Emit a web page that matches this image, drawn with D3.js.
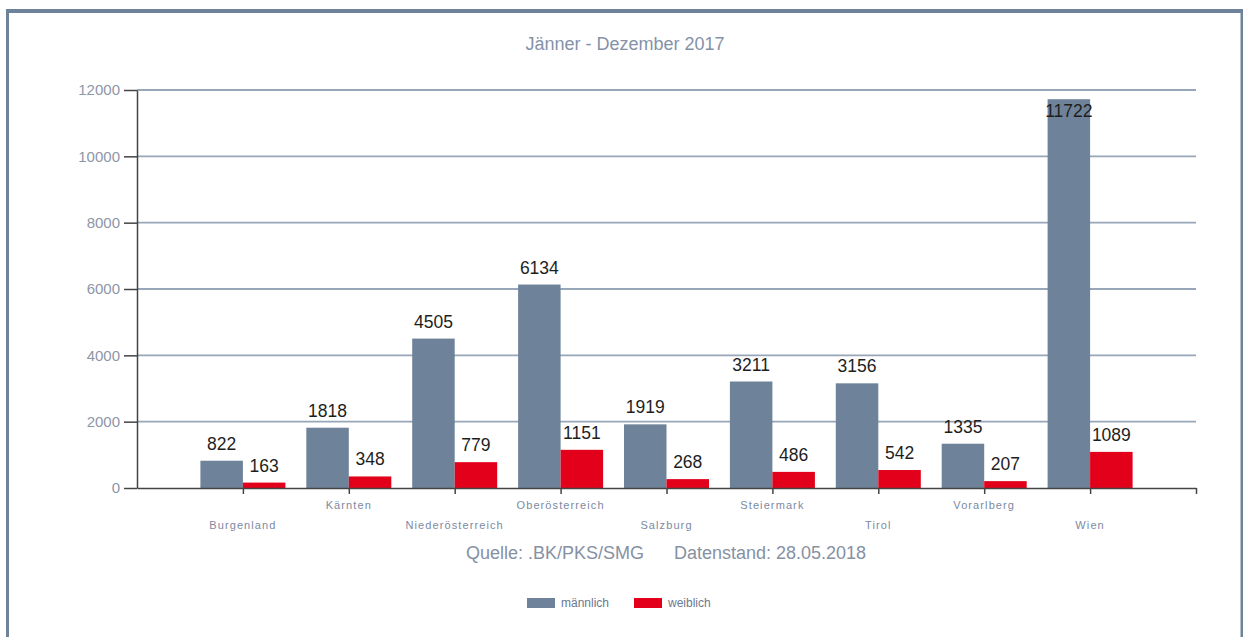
<!DOCTYPE html>
<html>
<head>
<meta charset="utf-8">
<script src="https://cdn.jsdelivr.net/npm/d3@7"></script>
<style>
  html, body { margin: 0; padding: 0; background: #fff; }
  svg { display: block; font-family: "Liberation Sans", Arial, sans-serif; }
</style>
</head>
<body>
<svg id="chart" width="1243" height="637"></svg>
<script>
// Bundesländer und Werte (Jänner - Dezember 2017)
const categories = ["Burgenland", "Kärnten", "Niederösterreich", "Oberösterreich", "Salzburg",
                    "Steiermark", "Tirol", "Vorarlberg", "Wien"];
const maleValues   = [822, 1818, 4505, 6134, 1919, 3211, 3156, 1335, 11722];
const femaleValues = [163, 348, 779, 1151, 268, 486, 542, 207, 1089];
const seriesNames  = ["männlich", "weiblich"];
const yTicks = [0, 2000, 4000, 6000, 8000, 10000, 12000];

const colors = { male: "#6e8399", female: "#e2001a", frame: "#6e8399" };

const svg = d3.select("#chart");
const W = 1243, H = 637;

// Rahmen
svg.append("rect").attr("x", 7.5).attr("y", 10.5).attr("width", 1234.5).attr("height", 640)
  .attr("fill", "none").attr("stroke", colors.frame).attr("stroke-width", 3);
svg.append("rect").attr("x", 6).attr("y", 9).attr("width", W).attr("height", 4).attr("fill", colors.frame);
svg.append("rect").attr("x", 1241).attr("y", 9).attr("width", 2).attr("height", H).attr("fill", colors.frame);

// Titel
svg.append("text").attr("x", 625).attr("y", 50).attr("text-anchor", "middle")
  .attr("font-size", 18).attr("fill", "#8492a8").text("Jänner - Dezember 2017");

const plot = { left: 137, right: 1196, top: 90, bottom: 488 };

const y = d3.scaleLinear().domain([0, 12000]).range([plot.bottom, plot.top]);
// Kategorien auf Positionen 1..9 einer Achse 0..10
const x = d3.scaleLinear().domain([0, categories.length + 1]).range([plot.left, plot.right]);
const barW = 42.5;

// Gitterlinien
svg.append("g").selectAll("line").data(yTicks.filter(t => t > 0)).join("line")
  .attr("x1", plot.left).attr("x2", plot.right)
  .attr("y1", d => y(d)).attr("y2", d => y(d))
  .attr("stroke", "#97a6b8").attr("stroke-width", 1.8);

// Balken
const groups = categories.map((c, i) => ({ c, i, m: maleValues[i], f: femaleValues[i] }));

svg.append("g").selectAll("rect").data(groups).join("rect")
  .attr("x", d => x(d.i + 1) - barW).attr("width", barW)
  .attr("y", d => y(d.m)).attr("height", d => plot.bottom - y(d.m))
  .attr("fill", colors.male);

svg.append("g").selectAll("rect").data(groups).join("rect")
  .attr("x", d => x(d.i + 1)).attr("width", barW)
  .attr("y", d => y(d.f)).attr("height", d => plot.bottom - y(d.f))
  .attr("fill", colors.female);

// Y-Achse
const yAxis = d3.axisLeft(y).tickValues(yTicks).tickFormat(d3.format("d")).tickSize(13).tickSizeOuter(0);
const gy = svg.append("g").attr("transform", `translate(${plot.left},0)`).call(yAxis);
gy.select(".domain").attr("stroke", "#444").attr("stroke-width", 1.5);
gy.selectAll(".tick line").attr("stroke", "#444").attr("stroke-width", 1.5);
gy.selectAll(".tick text").attr("font-size", 15).attr("fill", "#8d96a6")
  .attr("font-family", "Liberation Sans, Arial, sans-serif").attr("x", -17);

// X-Achse
const xTickVals = d3.range(1, categories.length + 2);
const xAxis = d3.axisBottom(x).tickValues(xTickVals).tickFormat("").tickSize(6).tickSizeOuter(0);
const gx = svg.append("g").attr("transform", `translate(0,${plot.bottom})`).call(xAxis);
gx.select(".domain").attr("stroke", "#444").attr("stroke-width", 1.5);
gx.selectAll(".tick line").attr("stroke", "#444").attr("stroke-width", 1.5);

// Kategoriebeschriftung, versetzt
svg.append("g").selectAll("text").data(groups).join("text")
  .attr("x", d => x(d.i + 1))
  .attr("y", d => d.i % 2 === 0 ? 529 : 509)
  .attr("text-anchor", "middle").attr("font-size", 11).attr("letter-spacing", 1.1)
  .attr("fill", "#7c8aa2")
  .text(d => d.c);

// Wertebeschriftung
const labelY = v => Math.max(y(v) - 11, plot.top + 27);
svg.append("g").selectAll("text").data(groups).join("text")
  .attr("x", d => x(d.i + 1) - barW / 2).attr("y", d => labelY(d.m))
  .attr("text-anchor", "middle").attr("font-size", 17.5).attr("fill", "#1e1e1e")
  .text(d => d.m);
svg.append("g").selectAll("text").data(groups).join("text")
  .attr("x", d => x(d.i + 1) + barW / 2).attr("y", d => labelY(d.f))
  .attr("text-anchor", "middle").attr("font-size", 17.5).attr("fill", "#1e1e1e")
  .text(d => d.f);

// Quelle
svg.append("text").attr("x", 666).attr("y", 559).attr("text-anchor", "middle")
  .attr("font-size", 18).attr("fill", "#8691a3").attr("xml:space", "preserve")
  .text("Quelle: .BK/PKS/SMG      Datenstand: 28.05.2018");

// Legende
const legend = svg.append("g");
const legendX = [527, 634];
seriesNames.forEach((name, k) => {
  legend.append("rect").attr("x", legendX[k]).attr("y", 598).attr("width", 28).attr("height", 10)
    .attr("fill", k === 0 ? colors.male : colors.female);
  legend.append("text").attr("x", legendX[k] + 34).attr("y", 607)
    .attr("font-size", 12).attr("fill", "#6b7890").text(name);
});
</script>
</body>
</html>
